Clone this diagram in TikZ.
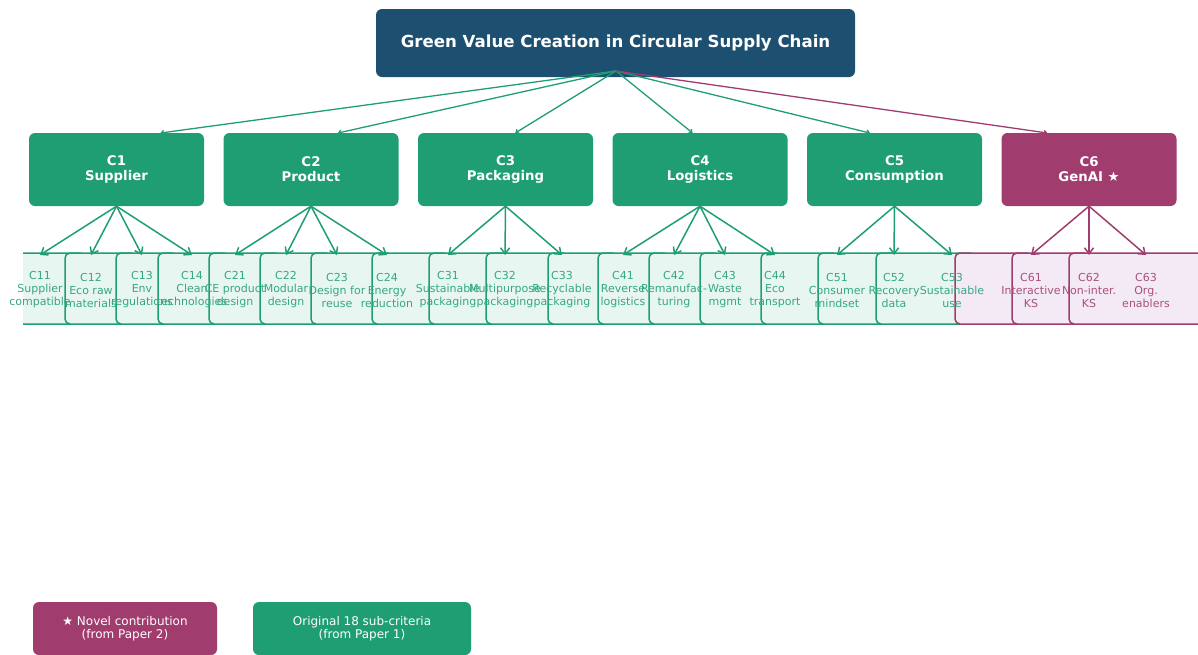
\documentclass[tikz,border=0pt]{standalone}
\usepackage{fontspec}
\setmainfont{DejaVu Sans}
\usetikzlibrary{arrows.meta,calc}

\definecolor{navy}{HTML}{1C4F70}
\definecolor{cgreen}{HTML}{1F9E74}
\definecolor{cplum}{HTML}{A03C6E}
\definecolor{lgreen}{HTML}{E8F6F1}
\definecolor{lplum}{HTML}{F4EAF5}

\tikzset{
  crit/.style={fill=#1,rounded corners=6pt,minimum width=175pt,minimum height=73pt,
    text=white,font=\bfseries\fontsize{13.3}{15}\selectfont,align=center,inner sep=0pt},
  sub/.style={text=#1,font=\fontsize{11}{13}\selectfont,align=center,inner sep=0pt},
  leafbox/.style={draw=#1,line width=1.5pt,rounded corners=5pt},
  legendbox/.style={fill=#1,rounded corners=6pt,minimum height=53pt,text=white,
    font=\fontsize{12}{13}\selectfont,align=center,inner sep=0pt},
  feed/.style={line width=1.3pt,-{Straight Barb[length=2.5pt,width=4.5pt]}},
  branch/.style={line width=1.5pt,-{Straight Barb[length=6pt,width=9pt]}},
}

\begin{document}
\begin{tikzpicture}[x=1pt,y=-1pt,line join=round,line cap=round]
\useasboundingbox (0,0) rectangle (1198,654);

% goal
\node[fill=navy,rounded corners=6pt,minimum width=479pt,minimum height=68pt,text=white,
  font=\bfseries\fontsize{16.6}{18}\selectfont] (goal) at (615.5,43)
  {Green Value Creation in Circular Supply Chain};
\coordinate (hub) at (616,71);
\coordinate (aim) at (0,139);
\coordinate (leaftop) at (0,255);

% main criteria
\foreach \i/\x/\name/\col in {1/116.5/Supplier/cgreen,2/311/Product/cgreen,
    3/505.5/Packaging/cgreen,4/700/Logistics/cgreen,5/894.5/Consumption/cgreen,
    6/1089/GenAI ★/cplum}
  \node[crit=\col] (c\i) at (\x,169.5) {C\i\\\name};

\foreach \i/\col in {1/cgreen,2/cgreen,3/cgreen,4/cgreen,5/cgreen,6/cplum}
  \draw[feed,\col] (hub) -- ($(hub)!0.912!(c\i |- aim)$);

% sub-criteria strip
\begin{scope}
\clip (23,0) rectangle (1198,654);
\foreach \l/\r/\col/\fil in {10/85/cgreen/lgreen,65/136/cgreen/lgreen,116/178/cgreen/lgreen,
    158/229/cgreen/lgreen,209/280/cgreen/lgreen,260/331/cgreen/lgreen,311/392/cgreen/lgreen,
    372/449/cgreen/lgreen,429/506/cgreen/lgreen,486/568/cgreen/lgreen,548/618/cgreen/lgreen,
    598/669/cgreen/lgreen,649/720/cgreen/lgreen,700/781/cgreen/lgreen,761/838/cgreen/lgreen,
    818/896/cgreen/lgreen,876/975/cgreen/lgreen,955/1032/cplum/lplum,1012/1089/cplum/lplum,
    1069/1240/cplum/lplum}
  \draw[leafbox=\col,fill=\fil] (\l,253) rectangle (\r,324);
\end{scope}

\foreach \n/\x/\a/\b/\col in {11/40/Supplier/compatible/cgreen,12/91/Eco raw/materials/cgreen,
    13/142/Env/regulations/cgreen,14/192/Clean/technologies/cgreen,
    21/235/CE product/design/cgreen,22/286/Modular/design/cgreen,
    23/337/Design for/reuse/cgreen,24/387/Energy/reduction/cgreen,
    31/448/Sustainable/packaging/cgreen,32/505/Multipurpose/packaging/cgreen,
    33/562/Recyclable/packaging/cgreen,41/623/Reverse/logistics/cgreen,
    42/674/Remanufac-/turing/cgreen,43/725/Waste/mgmt/cgreen,44/775/Eco/transport/cgreen,
    51/837/Consumer/mindset/cgreen,52/894/Recovery/data/cgreen,53/952/Sustainable/use/cgreen,
    61/1031/Interactive/KS/cplum,62/1089/Non-inter./KS/cplum,63/1146/Org./enablers/cplum}
  \node[sub=\col!90] (c\n) at (\x,290) {C\n\\\a\\\b};

% criteria to sub-criteria
\foreach \p/\kids/\col in {1/{11,12,13,14}/cgreen,2/{21,22,23,24}/cgreen,3/{31,32,33}/cgreen,
    4/{41,42,43,44}/cgreen,5/{51,52,53}/cgreen,6/{61,62,63}/cplum}
  \foreach \k in \kids
    \draw[branch,\col] (c\p.south) -- (c\k |- leaftop);

% legend
\node[legendbox=cplum,minimum width=184pt] (novel) at (125,628.5)
  {★ Novel contribution\\(from Paper 2)};
\node[legendbox=cgreen,minimum width=218pt] (orig) at (362,628.5)
  {Original 18 sub-criteria\\(from Paper 1)};
\end{tikzpicture}
\end{document}
